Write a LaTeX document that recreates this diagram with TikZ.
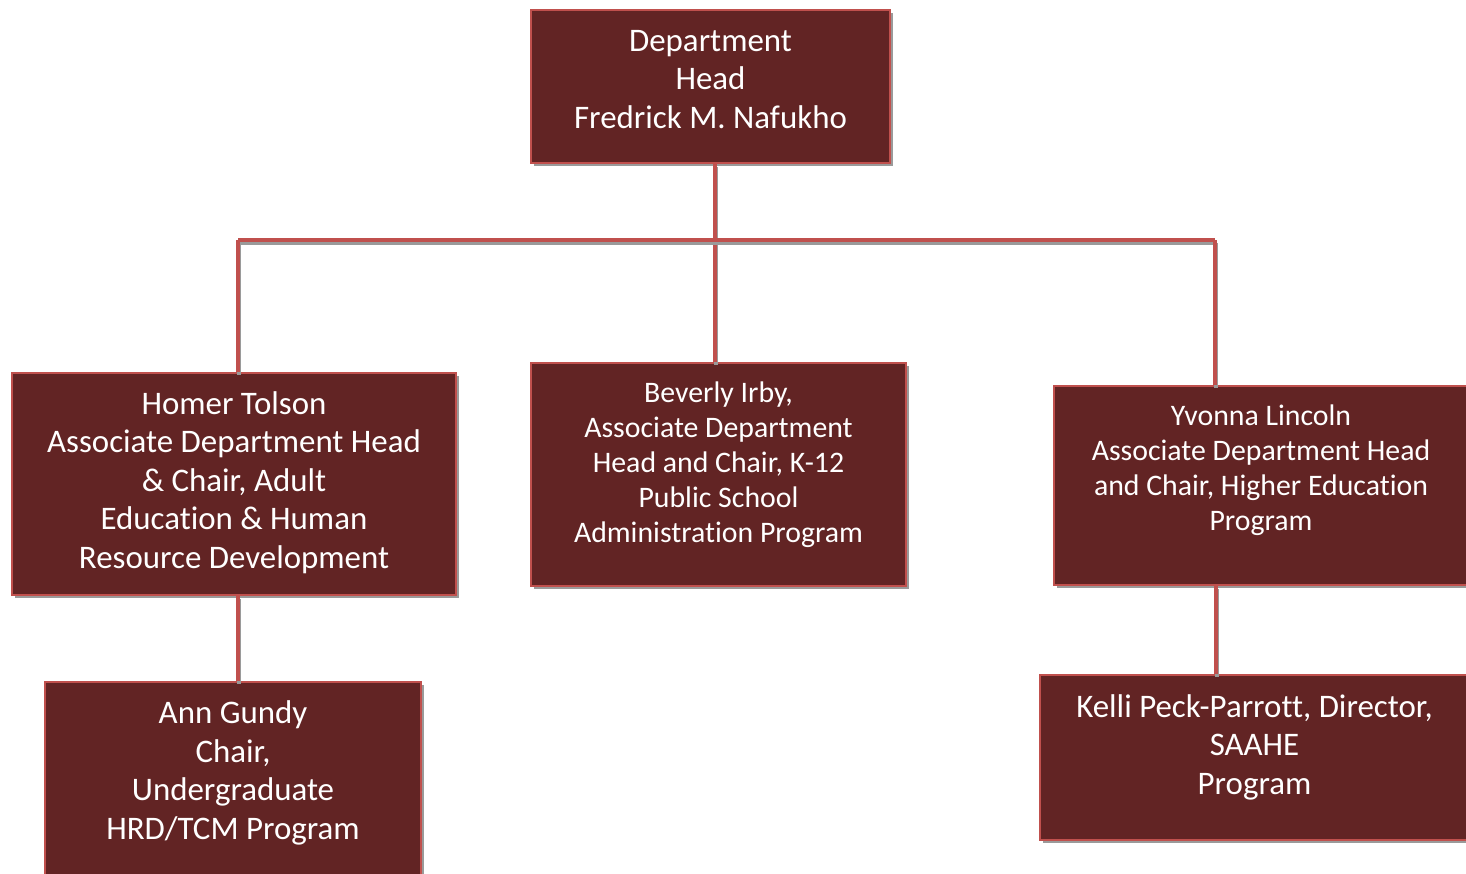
\documentclass[tikz,border=0pt]{standalone}
\usepackage{fontspec}
\setmainfont[Ligatures={NoCommon}]{Carlito}
\usetikzlibrary{shadows}
\definecolor{boxfill}{HTML}{622424}
\definecolor{boxline}{HTML}{C0504D}
\definecolor{shade}{HTML}{9A9A9A}
\begin{document}
\begin{tikzpicture}[x=1pt,y=-1pt,
  box/.style={draw=boxline, fill=boxfill, line width=2pt, inner sep=0pt, rectangle,
    drop shadow={shadow xshift=2.5pt, shadow yshift=-3pt, fill=shade, opacity=1}},
  txt/.style={text=white, align=center, inner sep=0pt, anchor=north},
  big/.style={font=\fontsize{32.9}{38.5}\selectfont},
  small/.style={font=\fontsize{29.8}{35}\selectfont},
  conn/.style={draw=boxline, line width=4.5pt,
    preaction={draw=shade, line width=4.5pt, transform canvas={shift={(1pt,-3pt)}}}}]
\useasboundingbox (0,0) rectangle (1466,873);
\clip (0,0) rectangle (1466,873);
\fill[white] (0,0) rectangle (1466,873);

% junction coordinates
\coordinate (j) at (715,240);
\coordinate (jl) at (238,240);
\coordinate (jr) at (1215,240);
\coordinate (jr2) at (1216,240);

% boxes
\node[box, minimum width=359pt, minimum height=153pt] (top) at (710.5,86.5) {};
\node[box, minimum width=444pt, minimum height=222pt] (homer) at (234,484) {};
\node[box, minimum width=375pt, minimum height=223pt] (bev) at (718.5,474.5) {};
\node[box, minimum width=414pt, minimum height=199pt] (yv) at (1261,485.5) {};
\node[box, minimum width=376pt, minimum height=218pt] (ann) at (233,791) {};
\node[box, minimum width=429pt, minimum height=165pt] (kelli) at (1254.5,757.5) {};

% connectors
\draw[conn] (j |- top.south) -- (j |- bev.north);
\draw[conn] (jl) -- (jr);
\draw[conn] (jl) -- (jl |- homer.north);
\draw[conn] (jr) -- (jr |- yv.north);
\draw[conn] (jl |- homer.south) -- (jl |- ann.north);
\draw[conn] (jr2 |- yv.south) -- (jr2 |- kelli.north);

% texts
\node[txt, big] (ttop) at ([yshift=-15pt]top.north) {\strut Department\\Head\\Fredrick M. Nafukho};
\node[txt, big] (thomer) at ([yshift=-15pt]homer.north) {\strut Homer Tolson\\Associate Department Head\\\& Chair, Adult\\Education \& Human\\Resource Development};
\node[txt, small] (tbev) at ([yshift=-15.5pt]bev.north) {\strut Beverly Irby,\\Associate Department\\Head and Chair, K-12\\Public School\\Administration Program};
\node[txt, small] (tyv) at ([yshift=-15.5pt]yv.north) {\strut Yvonna Lincoln\\Associate Department Head\\and Chair, Higher Education\\Program};
\node[txt, big] (tann) at ([yshift=-15.5pt]ann.north) {\strut Ann Gundy\\Chair,\\Undergraduate\\HRD/TCM Program};
\node[txt, big] (tkelli) at ([yshift=-16pt]kelli.north) {\strut Kelli Peck-Parrott, Director,\\SAAHE\\Program};
\end{tikzpicture}
\end{document}
